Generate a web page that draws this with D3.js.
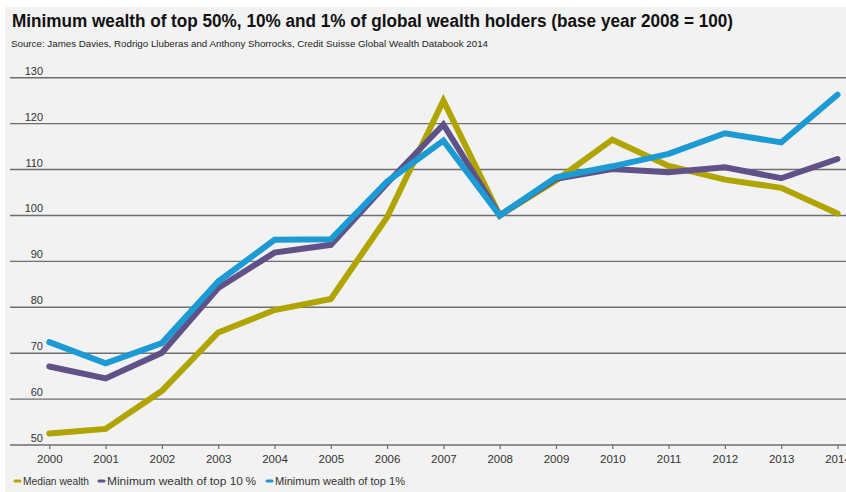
<!DOCTYPE html>
<html>
<head>
<meta charset="utf-8">
<script src="https://cdn.jsdelivr.net/npm/d3@7"></script>
<style>
  html, body { margin: 0; padding: 0; background: #ffffff; }
  svg { display: block; font-family: "Liberation Sans", Arial, sans-serif; }
</style>
</head>
<body>
<div id="chart"></div>
<script>
// data
var years = [2000, 2001, 2002, 2003, 2004, 2005, 2006, 2007, 2008, 2009, 2010, 2011, 2012, 2013, 2014];
var median = [52.5, 53.5, 61.8, 74.5, 79.4, 81.8, 99.6, 125, 100, 107.6, 116.5, 110.8, 107.8, 106, 100.4];
var top10 = [67.1, 64.5, 70.1, 84.2, 91.9, 93.6, 107, 119.8, 100, 108, 110.1, 109.4, 110.5, 108.1, 112.3];
var top1 = [72.4, 67.8, 72.2, 85.6, 94.7, 94.8, 107.4, 116.3, 100, 108.3, 110.7, 113.4, 117.9, 115.9, 126.3];
var yTicks = [50, 60, 70, 80, 90, 100, 110, 120, 130];
var seriesNames = ["Median wealth", "Minimum wealth of top 10\u2009%", "Minimum wealth of top 1%"];
var seriesColors = ["#b0a500", "#605289", "#1b9ad3"];

function drawChart() {
    var width = 846, height = 492;

    var svg = d3.select("#chart")
        .append("svg")
        .attr("width", width)
        .attr("height", height);

    //grey panel
    svg.append("rect")
        .attr("x", 5).attr("y", 7)
        .attr("width", width - 5).attr("height", height - 7)
        .attr("fill", "#f2f2f2");

    //title and source
    svg.append("text")
        .attr("x", 12).attr("y", 27)
        .attr("font-size", 18).attr("font-weight", "bold")
        .attr("fill", "#111")
        .attr("textLength", 721).attr("lengthAdjust", "spacingAndGlyphs")
        .text("Minimum wealth of top 50%, 10% and 1% of global wealth holders (base year 2008 = 100)");

    svg.append("text")
        .attr("x", 11).attr("y", 47)
        .attr("font-size", 9.5)
        .attr("fill", "#222")
        .attr("textLength", 477).attr("lengthAdjust", "spacingAndGlyphs")
        .text("Source: James Davies, Rodrigo Lluberas and Anthony Shorrocks, Credit Suisse Global Wealth Databook 2014");

    var x = d3.scaleLinear()
        .domain([2000, 2014])
        .range([49.3, 837.5]);

    var y = d3.scaleLinear()
        .domain([50, 130])
        .range([445, 77.7]);

    //gridlines
    var grid = svg.append("g");
    grid.selectAll("line")
        .data(yTicks)
        .enter()
        .append("line")
        .attr("x1", 10).attr("x2", width)
        .attr("y1", function (d) { return y(d); })
        .attr("y2", function (d) { return y(d); })
        .attr("stroke", "#6e6e6e")
        .attr("stroke-width", 1.4);

    grid.selectAll("text")
        .data(yTicks)
        .enter()
        .append("text")
        .attr("x", 43)
        .attr("y", function (d) { return y(d) - 3; })
        .attr("text-anchor", "end")
        .attr("font-size", 11)
        .attr("fill", "#333")
        .text(function (d) { return d; });

    //x axis
    var xAxis = d3.axisBottom(x)
        .tickValues(years)
        .tickFormat(d3.format("d"))
        .tickSize(4)
        .tickSizeOuter(0);

    var gx = svg.append("g")
        .attr("transform", "translate(0," + y(50) + ")")
        .call(xAxis);
    gx.select(".domain").remove();
    gx.selectAll(".tick line").attr("stroke", "#6e6e6e").attr("stroke-width", 1.2);
    gx.selectAll(".tick text")
        .attr("y", 10)
        .attr("font-family", "Liberation Sans, Arial, sans-serif")
        .attr("font-size", 11.5)
        .attr("fill", "#333");

    //lines
    var line = d3.line()
        .x(function (d, i) { return x(years[i]); })
        .y(function (d) { return y(d); });

    var allSeries = [median, top10, top1];
    svg.append("g")
        .selectAll("path")
        .data(allSeries)
        .enter()
        .append("path")
        .attr("d", line)
        .attr("fill", "none")
        .attr("stroke", function (d, i) { return seriesColors[i]; })
        .attr("stroke-width", 6)
        .attr("stroke-linejoin", "miter")
        .attr("stroke-linecap", "round");

    //legend
    var legX = [15, 99, 267];
    var legW = [66, 149, 130];
    var leg = svg.append("g");
    seriesNames.forEach(function (name, i) {
        leg.append("line")
            .attr("x1", legX[i]).attr("x2", legX[i] + 5)
            .attr("y1", 481).attr("y2", 481)
            .attr("stroke", seriesColors[i])
            .attr("stroke-width", 3)
            .attr("stroke-linecap", "round");
        leg.append("text")
            .attr("x", legX[i] + 8).attr("y", 485)
            .attr("font-size", 11)
            .attr("fill", "#333")
            .attr("textLength", legW[i]).attr("lengthAdjust", "spacingAndGlyphs")
            .text(name);
    });
}

window.onload = drawChart();
</script>
</body>
</html>
